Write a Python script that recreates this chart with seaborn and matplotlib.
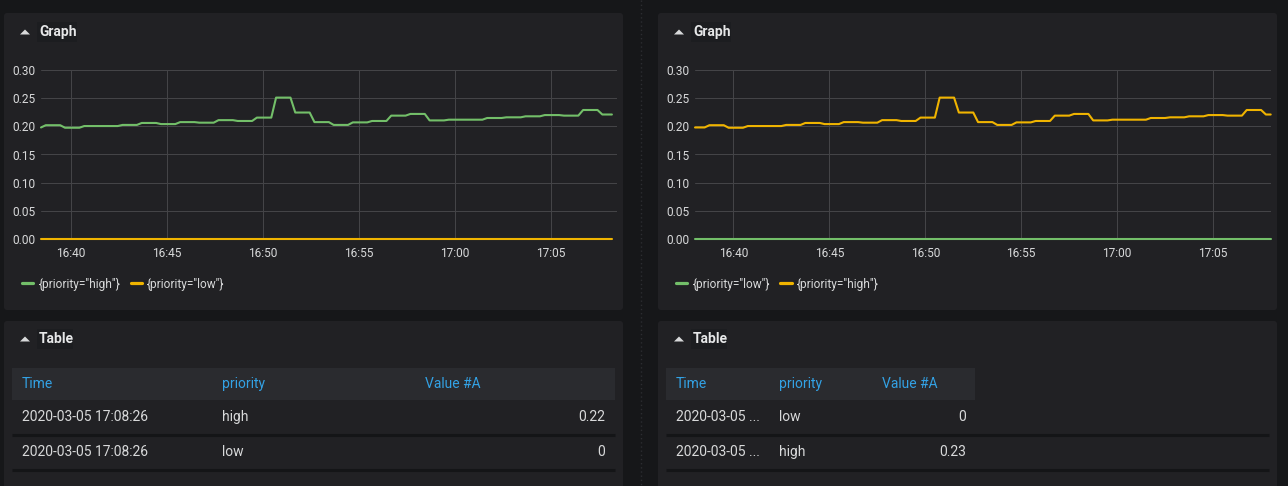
import numpy as np
import pandas as pd
import matplotlib.pyplot as plt
import matplotlib.dates as mdates
from matplotlib.patches import FancyBboxPatch, Rectangle, Polygon
from matplotlib.lines import Line2D
import seaborn as sns

# "high" series: 15 s samples, the level changes about once a minute
high_levels = [0.198, 0.202, 0.1975, 0.2005, 0.2025, 0.206, 0.204, 0.2075, 0.2065, 0.211,
               0.2095, 0.2155, 0.251, 0.2245, 0.2075, 0.2025, 0.207, 0.2095, 0.219, 0.222,
               0.2105, 0.2118, 0.2148, 0.216, 0.2178, 0.220, 0.219, 0.229, 0.221]
# samples per level (left panel / right panel)
runs_left = [1, 4, 4, 8] + [4] * 17 + [8] + [4] * 6 + [3]
runs_right = [3, 4, 4, 8] + [4] * 17 + [8] + [4] * 6 + [2]

start_left = '2020-03-05 16:38:26'
end_left = '2020-03-05 17:08:26'
start_right = '2020-03-05 16:38:00'
end_right = '2020-03-05 17:08:00'

legend_left = ['{priority="high"}', '{priority="low"}']
legend_right = ['{priority="low"}', '{priority="high"}']

table_cols = ['Time', 'priority', 'Value #A']
table_left = [['2020-03-05 17:08:26', 'high', '0.22'],
              ['2020-03-05 17:08:26', 'low', '0']]
table_right = [['2020-03-05 ...', 'low', '0'],
               ['2020-03-05 ...', 'high', '0.23']]

GREEN = '#73BF69'
YELLOW = '#F0B400'
BG = '#161719'
PANEL = '#212124'
TXT = '#d8d9da'
GRID = '#444447'
BLUE = '#33a2e5'

sns.set_theme(style='dark')
plt.rcParams['font.family'] = ['Roboto', 'DejaVu Sans']

W, H = 1288, 486
fig = plt.figure(figsize=(W / 100, H / 100), dpi=100, facecolor=BG)

bg = fig.add_axes([0, 0, 1, 1], zorder=-5)
bg.set_xlim(0, W)
bg.set_ylim(H, 0)
bg.axis('off')
bg.set_facecolor(BG)


def box(x0, y0, x1, y1):
    return [x0 / W, 1 - y1 / H, (x1 - x0) / W, (y1 - y0) / H]


def make_frame(levels, runs, start):
    high = np.repeat(levels, runs)
    t = pd.date_range(start, periods=len(high), freq='15s')
    d1 = pd.DataFrame({'time': t, 'value': high, 'priority': 'high'})
    d2 = pd.DataFrame({'time': t, 'value': np.zeros(len(high)), 'priority': 'low'})
    return pd.concat([d1, d2], ignore_index=True)


# separator between the two columns
bg.plot([641, 641], [0, H], color='#2c2d31', lw=1, ls=(0, (1, 2)))

for off, df_start, xend, order, pal, labels, rows, hdr_w, cols_x, val_x in [
    (0, start_left, end_left, ['high', 'low'], {'high': GREEN, 'low': YELLOW},
     legend_left, table_left, 615, [22, 222, 425], 605),
    (654, start_right, end_right, ['low', 'high'], {'low': GREEN, 'high': YELLOW},
     legend_right, table_right, 975, [676, 779, 882], 966),
]:
    runs = runs_left if off == 0 else runs_right
    # panels
    for y0, y1 in [(13, 310), (321, 520)]:
        bg.add_patch(FancyBboxPatch((4 + off, y0), 619, y1 - y0,
                                    boxstyle='round,pad=0,rounding_size=3',
                                    fc=PANEL, ec='none'))
    # panel titles
    for ty, title, tw in [(32, 'Graph', 40), (339, 'Table', 36)]:
        bg.add_patch(Rectangle((37 + off, ty - 10), tw, 20, fc='#1c1d20', ec='none'))
        bg.add_patch(Polygon([(20 + off, ty + 2.5), (30 + off, ty + 2.5), (25 + off, ty - 2.5)],
                             closed=True, fc=TXT, ec='none'))
        bg.text(39 + off, ty, title, color='#e6e7e8', fontsize=10, fontweight='bold',
                va='center', ha='left')

    # graph
    ax = fig.add_axes(box(41 + off, 70, 616.7 + off, 239))
    ax.set_facecolor('none')
    df = make_frame(high_levels, runs, df_start)
    sns.lineplot(data=df, x='time', y='value', hue='priority', hue_order=order,
                 palette=pal, estimator=None, lw=1.5, legend=False, ax=ax)
    for ln in ax.lines:
        ln.set_clip_on(False)
    ax.set_xlim(pd.Timestamp(df_start), pd.Timestamp(xend))
    ax.set_ylim(0, 0.30)
    ax.set_yticks(np.arange(0, 0.301, 0.05))
    ax.yaxis.set_major_formatter(plt.FormatStrFormatter('%.2f'))
    ax.xaxis.set_major_locator(mdates.MinuteLocator(byminute=range(0, 60, 5)))
    ax.xaxis.set_major_formatter(mdates.DateFormatter('%H:%M'))
    ax.set_xlabel('')
    ax.set_ylabel('')
    ax.grid(True, color=GRID, lw=0.75)
    ax.tick_params(colors=TXT, labelsize=8.6, length=0)
    ax.tick_params(axis='y', pad=4.3)
    ax.tick_params(axis='x', pad=6)
    for s in ax.spines.values():
        s.set_visible(False)
    handles = [Line2D([], [], color=pal[k], lw=2.3) for k in order]
    leg = ax.legend(handles, labels, loc='center left',
                    bbox_to_anchor=((22 + off) / W, 1 - 284 / H),
                    bbox_transform=fig.transFigure, frameon=False, ncol=2,
                    fontsize=8.6, handlelength=0.95, handletextpad=0.4,
                    columnspacing=0.9, borderpad=0, borderaxespad=0)
    for t in leg.get_texts():
        t.set_color(TXT)

    # table
    bg.add_patch(Rectangle((12 + off, 368), hdr_w - 12 - off, 32, fc='#2a2b2f', ec='none'))
    for cx, name in zip(cols_x, table_cols):
        bg.text(cx, 384, name, color=BLUE, fontsize=10, va='center', ha='left')
    for ry, row in zip([417, 452], rows):
        bg.text(cols_x[0], ry, row[0], color=TXT, fontsize=10, va='center', ha='left')
        bg.text(cols_x[1], ry, row[1], color=TXT, fontsize=10, va='center', ha='left')
        bg.text(val_x, ry, row[2], color=TXT, fontsize=10, va='center', ha='right')
    for sy in [435, 470]:
        bg.plot([12 + off, 615 + off], [sy, sy], color='#141517', lw=2.2, solid_capstyle='butt')

fig.savefig('out.png', dpi=100, facecolor=BG)
